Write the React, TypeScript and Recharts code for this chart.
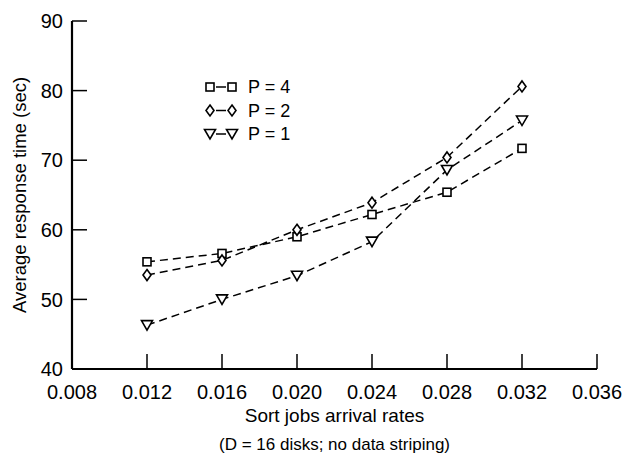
import React from "react";
import { LineChart, Line, XAxis, YAxis, Legend, Label } from "recharts";

// arrival rates on the x axis
const rates = [0.012, 0.016, 0.02, 0.024, 0.028, 0.032];
// average response time (sec)
const p4 = [55.4, 56.6, 59.0, 62.2, 65.4, 71.7];
const p2 = [53.5, 55.6, 60.0, 63.9, 70.4, 80.6];
const p1 = [46.3, 50.0, 53.4, 58.3, 68.6, 75.7];

const xTicks = [0.008, 0.012, 0.016, 0.02, 0.024, 0.028, 0.032, 0.036];
const yTicks = [40, 50, 60, 70, 80, 90];

const seriesOrder = ["p4", "p2", "p1"];

const data = rates.map((r, i) => ({ rate: r, p4: p4[i], p2: p2[i], p1: p1[i] }));

const FONT = '"Liberation Sans", Arial, Helvetica, sans-serif';
const TICK = 15;

const Square = ({ cx, cy }: any) => (
  <rect x={cx - 4} y={cy - 4} width={8} height={8} fill="#fff" stroke="#000" strokeWidth={1.6} />
);
const Diamond = ({ cx, cy }: any) => (
  <polygon
    points={`${cx},${cy - 5.5} ${cx + 4},${cy} ${cx},${cy + 5.5} ${cx - 4},${cy}`}
    fill="#fff"
    stroke="#000"
    strokeWidth={1.6}
  />
);
const Triangle = ({ cx, cy }: any) => (
  <polygon
    points={`${cx - 5.5},${cy - 4.5} ${cx + 5.5},${cy - 4.5} ${cx},${cy + 5}`}
    fill="#fff"
    stroke="#000"
    strokeWidth={1.6}
  />
);

const markers: Record<string, any> = { p4: Square, p2: Diamond, p1: Triangle };

const dotFor = (key: string) => (props: any) => {
  const M = markers[key];
  return <M key={`${key}-${props.index}`} cx={props.cx} cy={props.cy} />;
};

const BottomTick = ({ x, y, payload }: any) => (
  <g>
    <line x1={x} y1={y - 23} x2={x} y2={y - 23 - TICK} stroke="#000" strokeWidth={1.5} />
    <text x={x} y={y} dy="0.36em" textAnchor="middle" fontSize={20} fontFamily={FONT} fill="#000">
      {Number(payload.value).toFixed(3)}
    </text>
  </g>
);

const LeftTick = ({ x, y, payload }: any) => (
  <g>
    <line x1={x + 9} y1={y} x2={x + 9 + TICK} y2={y} stroke="#000" strokeWidth={1.5} />
    <text x={x} y={y} dy="0.36em" textAnchor="end" fontSize={20} fontFamily={FONT} fill="#000">
      {payload.value}
    </text>
  </g>
);

const TopTick = ({ x, y }: any) => (
  <line x1={x} y1={y} x2={x} y2={y + TICK} stroke="#000" strokeWidth={1.5} />
);

const RightTick = ({ x, y }: any) => (
  <line x1={x} y1={y} x2={x - TICK} y2={y} stroke="#000" strokeWidth={1.5} />
);

const XTitle = ({ viewBox }: any) => {
  const cx = viewBox.x + viewBox.width / 2;
  return (
    <g fontFamily={FONT} fill="#000" textAnchor="middle">
      <text x={cx} y={viewBox.y + 46} dy="0.35em" fontSize={19}>
        Sort jobs arrival rates
      </text>
      <text x={cx} y={viewBox.y + 75} dy="0.35em" fontSize={17}>
        (D = 16 disks; no data striping)
      </text>
    </g>
  );
};

const YTitle = ({ viewBox }: any) => {
  const cy = viewBox.y + viewBox.height / 2;
  return (
    <text
      x={20}
      y={cy}
      dy="0.35em"
      transform={`rotate(-90 20 ${cy})`}
      textAnchor="middle"
      fontSize={18.5}
      fontFamily={FONT}
      fill="#000"
    >
      Average response time (sec)
    </text>
  );
};

const LegendBox = ({ payload }: any) => {
  const items = [...(payload || [])].sort(
    (a: any, b: any) => seriesOrder.indexOf(a.dataKey) - seriesOrder.indexOf(b.dataKey)
  );
  return (
    <svg width={120} height={75}>
      {items.map((item: any, i: number) => {
        const M = markers[item.dataKey];
        const y = 10 + i * 23.5;
        return (
          <g key={item.dataKey}>
            <M cx={11} cy={y} />
            <line x1={17} y1={y} x2={27} y2={y} stroke="#000" strokeWidth={1.5} />
            <M cx={33} cy={y} />
            <text x={49} y={y} dy="0.35em" fontSize={18} fontFamily={FONT} fill="#000">
              {item.value}
            </text>
          </g>
        );
      })}
    </svg>
  );
};

const lineStyle = { stroke: "#000", strokeWidth: 1.5, strokeDasharray: "8 5" };

export default function App() {
  return (
    <div style={{ position: "absolute", left: 0, top: 0, background: "#fff" }}>
      <LineChart width={622} height={455} data={data} margin={{ top: 21, right: 25, bottom: 0, left: 0 }}>
        <XAxis
          dataKey="rate"
          type="number"
          domain={[0.008, 0.036]}
          ticks={xTicks}
          interval={0}
          height={86}
          tickSize={0}
          tickMargin={23}
          tickLine={false}
          tick={<BottomTick />}
          axisLine={{ stroke: "#000", strokeWidth: 2.2 }}
        >
          <Label content={<XTitle />} />
        </XAxis>
        <XAxis
          xAxisId="top"
          orientation="top"
          type="number"
          dataKey="rate"
          domain={[0.008, 0.036]}
          allowDataOverflow
          ticks={xTicks}
          interval={0}
          height={0}
          tickSize={0}
          tickMargin={0}
          tickLine={false}
          tick={<TopTick />}
          axisLine={{ stroke: "#000", strokeWidth: 2.2 }}
        />
        <YAxis
          type="number"
          domain={[40, 90]}
          ticks={yTicks}
          interval={0}
          width={72}
          tickSize={0}
          tickMargin={9}
          tickLine={false}
          tick={<LeftTick />}
          axisLine={{ stroke: "#000", strokeWidth: 2.2 }}
        >
          <Label content={<YTitle />} />
        </YAxis>
        <YAxis
          yAxisId="right"
          orientation="right"
          type="number"
          domain={[40, 90]}
          allowDataOverflow
          ticks={yTicks}
          interval={0}
          width={0}
          tickSize={0}
          tickMargin={0}
          tickLine={false}
          tick={<RightTick />}
          axisLine={{ stroke: "#000", strokeWidth: 2.2 }}
        />
        <Legend
          layout="vertical"
          align="center"
          verticalAlign="middle"
          content={<LegendBox />}
          wrapperStyle={{ position: "absolute", left: 199, top: 77, width: 120 }}
        />
        <Line name="P = 4" dataKey="p4" {...lineStyle} dot={dotFor("p4")} isAnimationActive={false} />
        <Line name="P = 2" dataKey="p2" {...lineStyle} dot={dotFor("p2")} isAnimationActive={false} />
        <Line name="P = 1" dataKey="p1" {...lineStyle} dot={dotFor("p1")} isAnimationActive={false} />
      </LineChart>
    </div>
  );
}
